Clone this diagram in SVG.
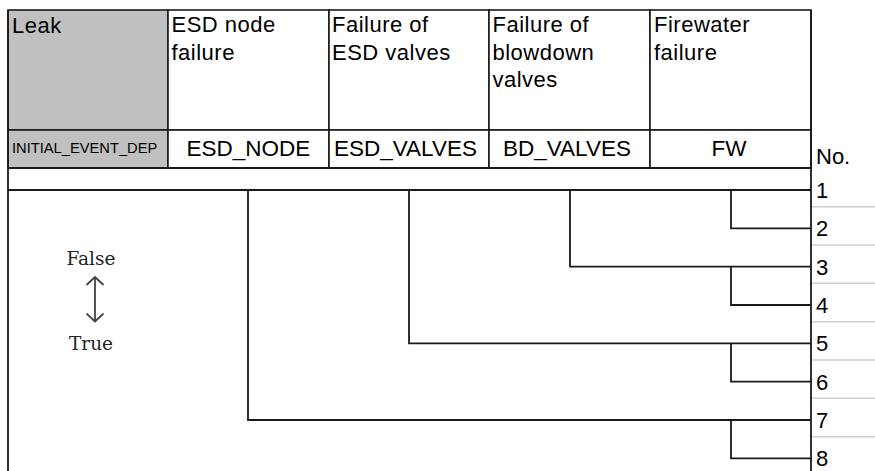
<svg xmlns="http://www.w3.org/2000/svg" width="875" height="471" viewBox="0 0 875 471">
<style>
.cell{fill:#ffffff;stroke:#1a1a1a;stroke-width:1.6}
.gray{fill:#c0c0c0}
.hd{font-family:"Liberation Sans",Arial,sans-serif;font-size:22px;letter-spacing:0.5px;fill:#000}
.lb{font-family:"Liberation Sans",Arial,sans-serif;font-size:22.5px;fill:#000;text-anchor:middle}
.num{font-family:"Liberation Sans",Arial,sans-serif;font-size:22px;fill:#000}
.ser{font-family:"DejaVu Serif","Liberation Serif",serif;font-size:18.5px;fill:#222;text-anchor:middle}
.br{fill:none;stroke:#1a1a1a;stroke-width:1.8}
.sep{stroke:#cfcfcf;stroke-width:1.6}
.arr{fill:none;stroke:#444;stroke-width:1.8;stroke-linecap:round;stroke-linejoin:round}
</style>
<rect width="875" height="471" fill="#ffffff"/>
<g id="leak">
<rect class="cell gray" x="8" y="10" width="160" height="120"/>
<rect class="cell gray" x="8" y="130" width="160" height="38"/>
<text class="hd" x="12" y="33">Leak</text>
<text x="12" y="152.5" style="font-family:'Liberation Sans',Arial,sans-serif;font-size:14.7px;fill:#000">INITIAL_EVENT_DEP</text>
</g>
<g id="esd_node">
<rect class="cell" x="168" y="10" width="161" height="120"/>
<rect class="cell" x="168" y="130" width="161" height="38"/>
<text class="hd" x="171.5" y="32">ESD node</text>
<text class="hd" x="171.5" y="60">failure</text>
<text class="lb" x="248.5" y="156">ESD_NODE</text>
</g>
<g id="esd_valves">
<rect class="cell" x="329" y="10" width="160" height="120"/>
<rect class="cell" x="329" y="130" width="160" height="38"/>
<text class="hd" x="332" y="32">Failure of</text>
<text class="hd" x="332" y="60">ESD valves</text>
<text class="lb" x="405.5" y="156">ESD_VALVES</text>
</g>
<g id="bd_valves">
<rect class="cell" x="489" y="10" width="161" height="120"/>
<rect class="cell" x="489" y="130" width="161" height="38"/>
<text class="hd" x="492.5" y="32">Failure of</text>
<text class="hd" x="492.5" y="60">blowdown</text>
<text class="hd" x="492.5" y="87">valves</text>
<text class="lb" x="567" y="156">BD_VALVES</text>
</g>
<g id="fw">
<rect class="cell" x="650" y="10" width="161" height="120"/>
<rect class="cell" x="650" y="130" width="161" height="38"/>
<text class="hd" x="654" y="32">Firewater</text>
<text class="hd" x="654" y="60">failure</text>
<text class="lb" x="729" y="156">FW</text>
</g>
<g id="no_column">
<line class="sep" x1="811" y1="206.7" x2="875" y2="206.7"/>
<line class="sep" x1="811" y1="245" x2="875" y2="245"/>
<line class="sep" x1="811" y1="283.3" x2="875" y2="283.3"/>
<line class="sep" x1="811" y1="321.7" x2="875" y2="321.7"/>
<line class="sep" x1="811" y1="360" x2="875" y2="360"/>
<line class="sep" x1="811" y1="398.3" x2="875" y2="398.3"/>
<line class="sep" x1="811" y1="436.7" x2="875" y2="436.7"/>
<line class="br" x1="811" y1="10" x2="811" y2="471"/>
<text class="num" x="816" y="163.5">No.</text>
<text class="num" x="816" y="197.5">1</text>
<text class="num" x="816" y="236">2</text>
<text class="num" x="816" y="274.5">3</text>
<text class="num" x="816" y="312.5">4</text>
<text class="num" x="816" y="351">5</text>
<text class="num" x="816" y="389.5">6</text>
<text class="num" x="816" y="428">7</text>
<text class="num" x="816" y="466">8</text>
</g>
<g id="legend">
<text class="ser" x="91" y="265">False</text>
<text class="ser" x="91" y="350">True</text>
<path class="arr" d="M95 277V321.5M87 284.5L95 277L103 284.5M87 314L95 321.5L103 314"/>
</g>
<g id="connectors">
<line class="br" x1="8" y1="10" x2="8" y2="471"/>
<line class="br" x1="8" y1="168" x2="811" y2="168"/>
<path class="br" d="M8 190H811"/>
<path class="br" d="M731 190V228.3H811"/>
<path class="br" d="M570 190V266.7H811"/>
<path class="br" d="M731 266.7V305H811"/>
<path class="br" d="M409 190V343.3H811"/>
<path class="br" d="M731 343.3V381.7H811"/>
<path class="br" d="M248 190V420H811"/>
<path class="br" d="M731 420V458.3H811"/>
</g>
</svg>
